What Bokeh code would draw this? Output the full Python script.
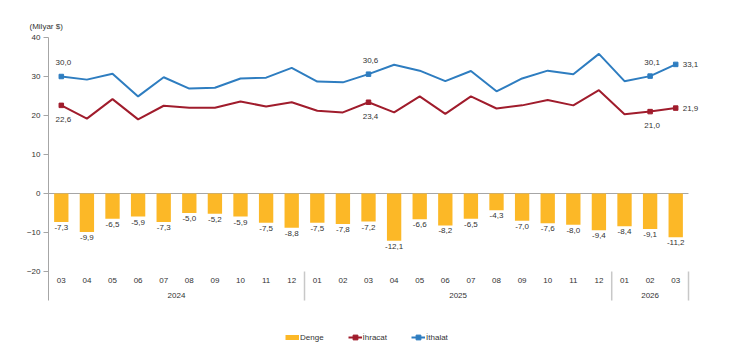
from bokeh.plotting import figure
from bokeh.models import ColumnDataSource, Legend, LegendItem, FixedTicker, Title
from bokeh.core.properties import value
from bokeh.embed import file_html
from bokeh.resources import INLINE

# ---------------- data ----------------
months = ["03", "04", "05", "06", "07", "08", "09", "10", "11", "12",
          "01", "02", "03", "04", "05", "06", "07", "08", "09", "10", "11", "12",
          "01", "02", "03"]
years = ["2024", "2025", "2026"]
year_counts = [10, 12, 3]
denge = [-7.3, -9.9, -6.5, -5.9, -7.3, -5.0, -5.2, -5.9, -7.5, -8.8,
         -7.5, -7.8, -7.2, -12.1, -6.6, -8.2, -6.5, -4.3, -7.0, -7.6, -8.0, -9.4,
         -8.4, -9.1, -11.2]
ihracat = [22.6, 19.2, 24.2, 19.0, 22.5, 22.0, 22.0, 23.6, 22.3, 23.4,
           21.2, 20.8, 23.4, 20.8, 24.9, 20.4, 24.9, 21.8, 22.6, 24.0, 22.6, 26.5,
           20.3, 21.0, 21.9]
ithalat = [30.0, 29.2, 30.7, 24.9, 29.8, 26.9, 27.1, 29.5, 29.7, 32.2,
           28.7, 28.5, 30.6, 33.0, 31.5, 28.8, 31.4, 26.2, 29.5, 31.5, 30.6, 35.8,
           28.8, 30.1, 33.1]
y_ticks = [-20, -10, 0, 10, 20, 30, 40]
unit_label = "(Milyar $)"
labelled_side = [0, 12, 23]   # points with value labels above/below
labelled_right = [24]         # points with value labels to the right

# ---------------- style ----------------
ORANGE = "#FCB827"
RED = "#A01C2C"
BLUE = "#2E7DC0"
TXT = "#333333"
AXIS = "#A6A6A6"
FONT = "Liberation Sans"
FS = "8px"
AXIS_BOTTOM = -27.44

def fmt(v):
    return f"{v:.1f}".replace(".", ",")

n = len(months)
x = list(range(n))

p = figure(width=730, height=351, output_backend="svg", toolbar_location=None,
           x_range=(-0.5, 26.14), y_range=(-40.51, 40),
           x_axis_type=None, min_border_left=48, min_border_right=0,
           min_border_top=37, min_border_bottom=0)
p.outline_line_color = None
p.grid.visible = False
p.background_fill_color = "white"
p.border_fill_color = "white"

# unit label at top-left
p.add_layout(Title(text=unit_label, align="left", offset=-19, standoff=13,
                   text_font=FONT, text_font_size=FS, text_font_style="normal",
                   text_color=TXT), "above")

# y axis
ya = p.yaxis[0]
ya.ticker = FixedTicker(ticks=y_ticks)
ya.bounds = (AXIS_BOTTOM, y_ticks[-1])
ya.axis_line_color = AXIS
ya.major_tick_line_color = AXIS
ya.major_tick_in = 0
ya.major_tick_out = 5
ya.minor_tick_line_color = None
ya.major_label_standoff = 3
ya.major_label_text_font = FONT
ya.major_label_text_font_size = FS
ya.major_label_text_color = TXT

# zero line across the categories
p.segment(x0=[-0.5], x1=[n - 0.5], y0=[0], y1=[0], line_color=AXIS, line_width=1)

src = ColumnDataSource(dict(x=x, denge=denge, ihracat=ihracat, ithalat=ithalat,
                            dlab=[fmt(v) for v in denge], month=months,
                            base=[y_ticks[0]] * n))

bars = p.vbar(x="x", top="denge", bottom=0, width=0.56, source=src,
              fill_color=ORANGE, line_color=None)
common = dict(text_font=value(FONT), text_font_size=FS, text_color=TXT)
p.text(x="x", y="denge", text="dlab", source=src, text_align="center",
       text_baseline="top", y_offset=3, **common)

l_ihr = p.line(x="x", y="ihracat", source=src, line_color=RED, line_width=2)
l_ith = p.line(x="x", y="ithalat", source=src, line_color=BLUE, line_width=2)

mk = labelled_side + labelled_right
m_ihr = p.scatter(x=[x[i] for i in mk], y=[ihracat[i] for i in mk], marker="square",
                  size=4.5, fill_color=RED, line_color=RED)
m_ith = p.scatter(x=[x[i] for i in mk], y=[ithalat[i] for i in mk], marker="square",
                  size=4.5, fill_color=BLUE, line_color=BLUE)

# value labels on lines
p.text(x=[x[i] for i in labelled_side], y=[ithalat[i] for i in labelled_side],
       text=[fmt(ithalat[i]) for i in labelled_side], text_align="center",
       text_baseline="middle", x_offset=2, y_offset=-14, **common)
p.text(x=[x[i] for i in labelled_side], y=[ihracat[i] for i in labelled_side],
       text=[fmt(ihracat[i]) for i in labelled_side], text_align="center",
       text_baseline="middle", x_offset=2, y_offset=14, **common)
p.text(x=[x[i] for i in labelled_right], y=[ithalat[i] for i in labelled_right],
       text=[fmt(ithalat[i]) for i in labelled_right], text_align="left",
       text_baseline="middle", x_offset=7, **common)
p.text(x=[x[i] for i in labelled_right], y=[ihracat[i] for i in labelled_right],
       text=[fmt(ihracat[i]) for i in labelled_right], text_align="left",
       text_baseline="middle", x_offset=7, **common)

# category axis (months, years, separators)
p.text(x="x", y="base", text="month", source=src, text_align="center",
       text_baseline="middle", y_offset=9, **common)
ends, centers = [], []
start = 0
for c in year_counts:
    centers.append(start + (c - 1) / 2)
    ends.append(start + c - 0.5)
    start += c
p.text(x=centers, y=[y_ticks[0]] * len(years), text=years, text_align="center",
       text_baseline="middle", y_offset=24, **common)
p.segment(x0=ends, x1=ends, y0=[y_ticks[0]] * len(ends), y1=[AXIS_BOTTOM] * len(ends),
          line_color="#C8C8C8", line_width=1.5)

# legend
dummy = p.line(x=[float("nan")], y=[float("nan")], line_color=ORANGE, line_width=5)
legend = Legend(items=[LegendItem(label="Denge", renderers=[dummy]),
                       LegendItem(label="İhracat", renderers=[l_ihr, m_ihr]),
                       LegendItem(label="İthalat", renderers=[l_ith, m_ith])],
                orientation="horizontal", location=(237, 8),
                glyph_width=14, glyph_height=12, label_height=12, label_standoff=1,
                spacing=24, padding=0, margin=0, border_line_color=None,
                background_fill_alpha=0, label_text_font=FONT,
                label_text_font_size=FS, label_text_color=TXT)
p.add_layout(legend, "center")

open("out.html", "w").write(file_html(p, INLINE))
